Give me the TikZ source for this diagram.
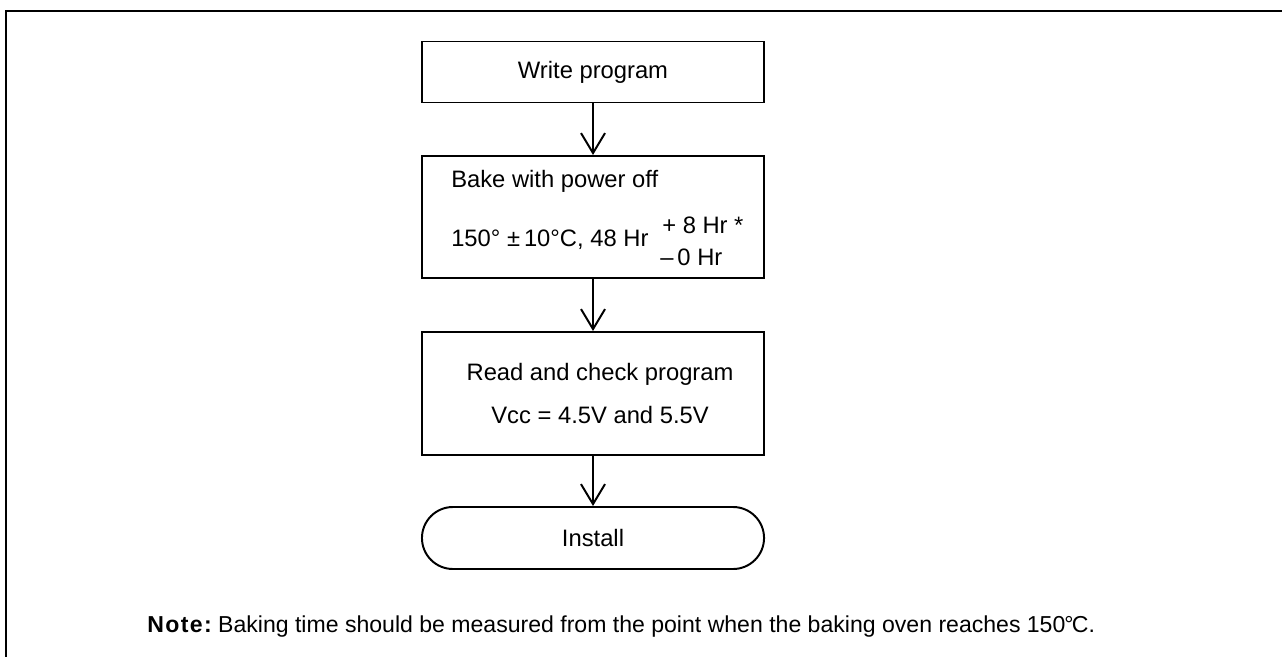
\documentclass[tikz,border=0pt]{standalone}
\usepackage{fontspec}
\setmainfont{Liberation Sans}
\usetikzlibrary{arrows.meta}

\begin{document}
\begin{tikzpicture}[x=0.025cm,y=-0.025cm,
    font=\fontsize{16.9}{20}\selectfont,
    stepbox/.style={draw,line width=1.4pt,minimum width=8.55cm,inner sep=0pt},
    txt/.style={inner sep=0pt,anchor=base west},
    flow/.style={line width=1.4pt,-{Straight Barb[length=0.5cm,width=0.6cm,line width=1.4pt]}}]
    \useasboundingbox (0,0) rectangle (1282,657);
    \draw[line width=2pt] (1282,11) -- (6,11) -- (6,657);

    \node[stepbox,minimum height=1.525cm] (write) at (593,72) {Write program};

    \node[stepbox,minimum height=3.05cm] (bake) at (593,217) {};
    \node[txt] (bakeA) at (451,187) {Bake with power off};
    \node[txt] (bakeB) at (451,246) {150° ±\,10°C, 48 Hr};
    \node[txt] (plus) at (662,233) {+ 8 Hr *};
    \node[txt] (minus) at (660,265) {–\,0 Hr};

    \node[stepbox,minimum height=3.075cm,align=center,
        font=\fontsize{16.9}{30.6}\selectfont] (check) at (593,393.5)
        {\hspace*{10pt}Read and check program\\
         \hspace*{10pt}Vcc = 4.5V and 5.5V};

    \node[stepbox,minimum height=1.55cm,rounded corners=0.775cm] (install)
        at (593,538) {Install};

    \draw[flow] (write) -- (bake);
    \draw[flow] (bake) -- (check);
    \draw[flow] (check) -- (install);

    \node[txt,font=\fontsize{16.4}{20}\selectfont] (note) at (147,632)
        {{\bfseries\addfontfeature{LetterSpace=6}Note:}\ Baking time should be measured from the point when the baking oven reaches 150\kern-0.04em°\kern-0.08em C.};
\end{tikzpicture}
\end{document}
